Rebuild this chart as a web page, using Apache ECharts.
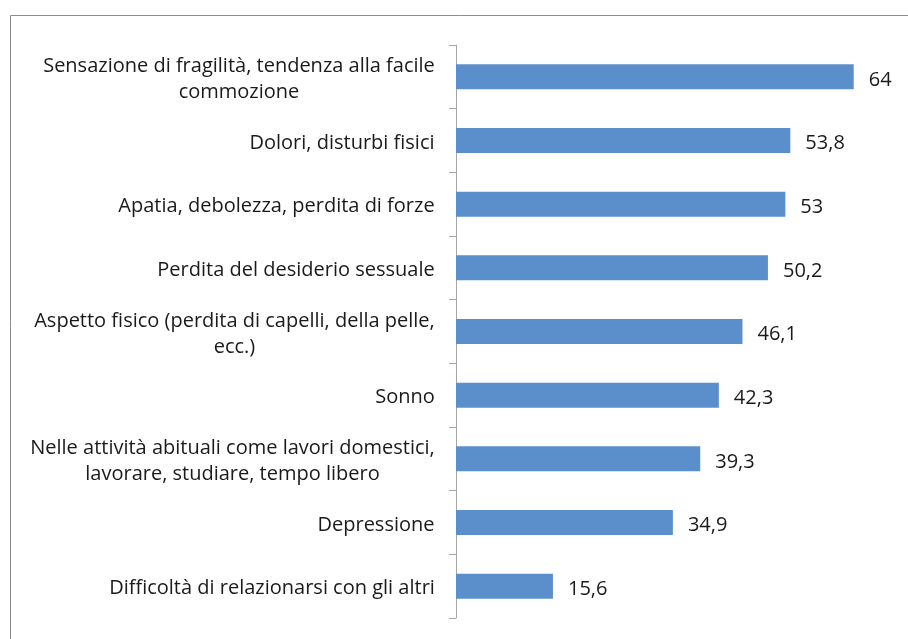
<!DOCTYPE html>
<html><head><meta charset="utf-8">
<script src="https://cdn.jsdelivr.net/npm/echarts@6/dist/echarts.min.js"></script>
<style>html,body{margin:0;padding:0;background:#fff}#c{width:908px;height:639px}</style>
</head><body><div id="c"></div>
<script>
const categories = [
  'Sensazione di fragilità, tendenza alla facile\ncommozione',
  'Dolori, disturbi fisici',
  'Apatia, debolezza, perdita di forze',
  'Perdita del desiderio sessuale',
  'Aspetto fisico (perdita di capelli, della pelle,\necc.)',
  'Sonno',
  'Nelle attività abituali come lavori domestici,\nlavorare, studiare, tempo libero',
  'Depressione',
  'Difficoltà di relazionarsi con gli altri'
];
const values = [64, 53.8, 53, 50.2, 46.1, 42.3, 39.3, 34.9, 15.6];

const FONT = 'Open Sans';
const FS = 20;
const ctx = document.createElement('canvas').getContext('2d');
ctx.font = FS + 'px "' + FONT + '"';
const rich = {};
categories.forEach((c, i) => {
  const lines = c.split('\n');
  const w = Math.max(...lines.map(l => ctx.measureText(l).width));
  rich['c' + i] = { width: Math.ceil(w), align: 'center', fontSize: FS, fontFamily: FONT, color: '#1a1a1a', lineHeight: 26 };
});

const chart = echarts.init(document.getElementById('c'));
chart.setOption({
  animation: false,
  graphic: [{ type: 'rect', shape: { x: 10.5, y: 15.5, width: 1000, height: 1000 }, style: { fill: 'none', stroke: '#8c8c8c', lineWidth: 1 }, silent: true }],
  grid: { left: 456, right: 17, top: 45, bottom: 21 },
  xAxis: { type: 'value', min: 0, max: 70, show: false },
  yAxis: {
    type: 'category', inverse: true, data: categories,
    axisLine: { show: true, lineStyle: { color: '#a6a6a6', width: 1 } },
    axisTick: { show: true, length: 7, alignWithLabel: false, lineStyle: { color: '#a6a6a6' } },
    axisLabel: {
      margin: 21, interval: 0, padding: [5, 0, 0, 0],
      formatter: (v, idx) => {
        const i = categories.indexOf(v);
        return v.split('\n').map(l => '{c' + i + '|' + l + '}').join('\n');
      },
      rich: rich
    }
  },
  series: [{
    type: 'bar', data: values, barWidth: 25,
    itemStyle: { color: '#5b8fcc' },
    label: {
      show: true, position: 'right', distance: 15, offset: [0, 3],
      fontSize: FS, fontFamily: FONT, color: '#1a1a1a',
      formatter: p => String(p.value).replace('.', ',')
    }
  }]
});
</script></body></html>
